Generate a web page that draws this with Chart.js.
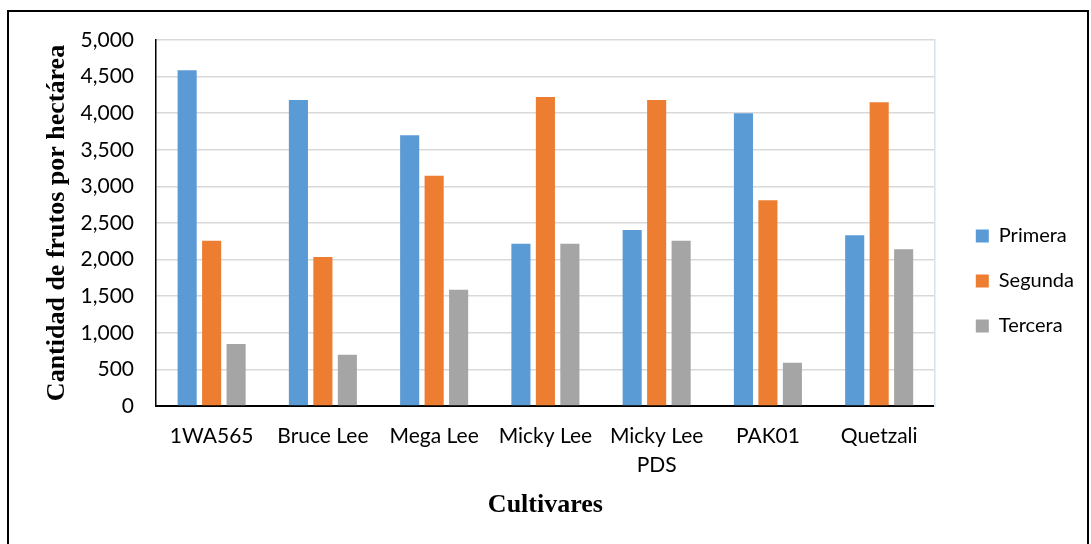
<!DOCTYPE html>
<html>
<head>
<meta charset="utf-8">
<script src="https://cdn.jsdelivr.net/npm/chart.js@4"></script>
<style>
    html, body { margin: 0; padding: 0; background: #fff; overflow: hidden; }
    #wrap { position: relative; width: 1091px; height: 544px; }
    #frame {
        position: absolute; left: 7px; top: 10px; width: 1078px; height: 560px;
        border: 2px solid #000; pointer-events: none;
    }
</style>
</head>
<body>
<div id="wrap">
    <canvas id="chart" width="1091" height="544"></canvas>
    <div id="frame"></div>
</div>
<script>
// Cultivars and fruit counts per hectare
const cultivares = ['1WA565', 'Bruce Lee', 'Mega Lee', 'Micky Lee', ['Micky Lee', 'PDS'], 'PAK01', 'Quetzali'];
const primera = [4586, 4180, 3698, 2217, 2404, 3998, 2331];
const segunda = [2258, 2036, 3146, 4221, 4180, 2810, 4148];
const tercera = [847, 701, 1589, 2217, 2258, 592, 2140];

const yMax = 5000;
const yStep = 500;

const tickFont = { family: 'Lato', size: 21 };
const legendFont = { family: 'Lato', size: 20 };
const titleFont = { family: '"Liberation Serif", serif', size: 26, weight: 'bold' };

const ctx = document.getElementById('chart');

new Chart(ctx, {
    type: 'bar',
    data: {
        labels: cultivares,
        datasets: [
            { label: 'Primera', data: primera, backgroundColor: '#5b9bd5' },
            { label: 'Segunda', data: segunda, backgroundColor: '#ed7d31' },
            { label: 'Tercera', data: tercera, backgroundColor: '#a5a5a5' }
        ]
    },
    options: {
        responsive: false,
        animation: false,
        categoryPercentage: 0.66,
        barPercentage: 0.78,
        layout: { padding: { top: 40, bottom: 22, right: 7, left: 0 } },
        plugins: {
            tooltip: { enabled: false },
            legend: {
                position: 'right',
                labels: {
                    boxWidth: 13,
                    boxHeight: 13,
                    padding: 25,
                    color: '#000',
                    font: legendFont
                }
            }
        },
        scales: {
            x: {
                grid: { display: false, drawTicks: false },
                border: { display: true, color: '#000', width: 2 },
                ticks: {
                    color: '#000',
                    font: { family: 'Lato', size: 21, lineHeight: 1.38 },
                    padding: 16,
                    maxRotation: 0,
                    autoSkip: false
                },
                title: {
                    display: true,
                    text: 'Cultivares',
                    color: '#000',
                    font: titleFont,
                    padding: { top: 0, bottom: 1 }
                },
                afterFit: scale => { scale.height = 116; }
            },
            y: {
                min: 0,
                max: yMax,
                grid: { color: '#d9d9d9', lineWidth: 1.5, drawTicks: false },
                border: { display: true, color: '#000', width: 1.5 },
                ticks: {
                    stepSize: yStep,
                    color: '#000',
                    font: tickFont,
                    padding: 22,
                    callback: v => v.toLocaleString('en-US')
                },
                title: {
                    display: true,
                    text: 'Cantidad de frutos por hectárea',
                    color: '#000',
                    font: titleFont,
                    padding: { top: 42, bottom: 0 }
                },
                afterFit: scale => { scale.width = 156; }
            },
            yRight: {
                position: 'right',
                display: true,
                grid: { display: false, drawTicks: false },
                border: { display: true, color: '#d6e2f3', width: 1.5 },
                ticks: { display: false },
                afterFit: scale => { scale.width = 16; }
            }
        }
    }
});
</script>
</body>
</html>
